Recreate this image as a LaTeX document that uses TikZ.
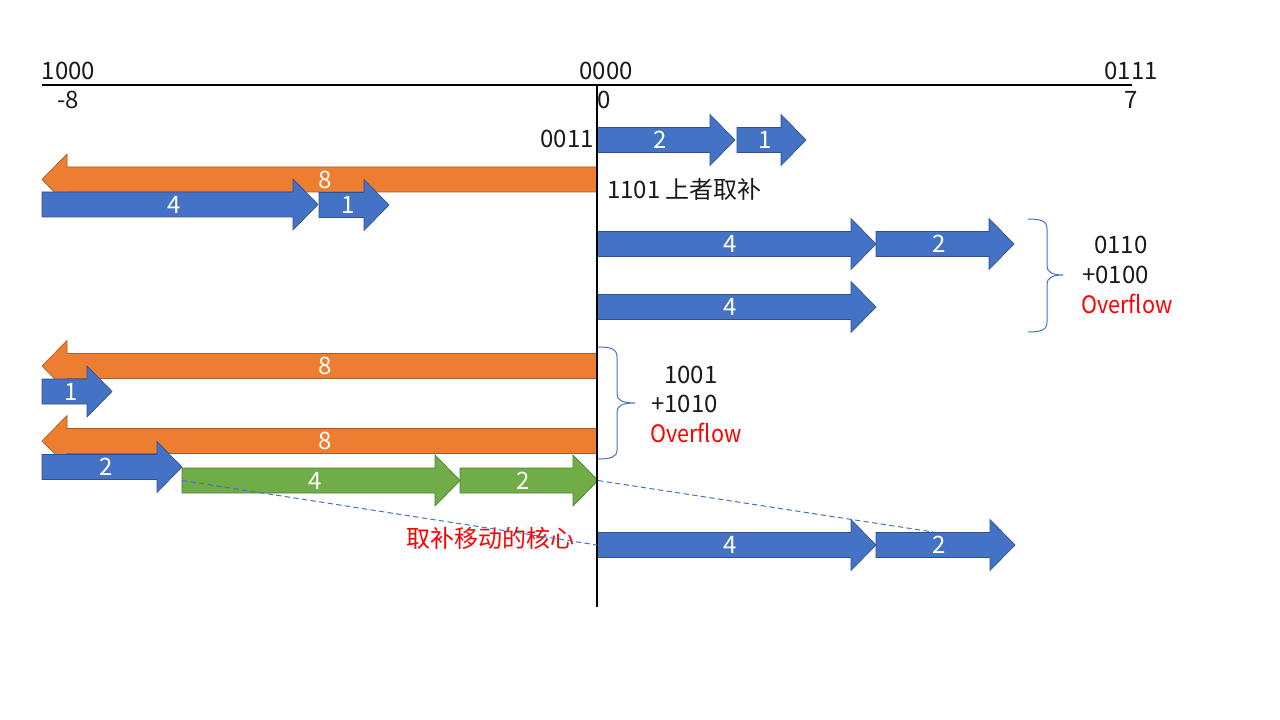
\documentclass[tikz,border=0pt]{standalone}
\usepackage{fontspec}
\setmainfont{Noto Sans CJK SC}
\definecolor{pblue}{HTML}{4472C4}
\definecolor{pblueb}{HTML}{2F528F}
\definecolor{porange}{HTML}{ED7D31}
\definecolor{porangeb}{HTML}{AE5A21}
\definecolor{pgreen}{HTML}{70AD47}
\definecolor{pgreenb}{HTML}{507E32}
\definecolor{ptext}{HTML}{1A1A1A}
\tikzset{
  bluearr/.style={fill=pblue,draw=pblueb,line width=0.5pt},
  orangearr/.style={fill=porange,draw=porangeb,line width=0.5pt},
  greenarr/.style={fill=pgreen,draw=pgreenb,line width=0.5pt},
  lbl/.style={text=white,inner sep=0pt,font=\fontsize{18}{22}\selectfont},
  txt/.style={text=ptext,inner sep=0pt,font=\fontsize{18}{22}\selectfont},
  redtxt/.style={text=red,inner sep=0pt,font=\fontsize{18}{22}\selectfont},
  bracestyle/.style={draw=pblue,line width=0.75pt},
  dashline/.style={draw=pblue,line width=0.75pt,dash pattern=on 4pt off 2.5pt},
}
% right-pointing block arrow: name, x1, xtip, yc, label, style
\newcommand\rarr[6]{%
  \filldraw[#6] (#2,#4-12.5) -- (#3-25,#4-12.5) -- (#3-25,#4-25.5) -- (#3,#4)
    -- (#3-25,#4+25.5) -- (#3-25,#4+12.5) -- (#2,#4+12.5) -- cycle;
  \node[lbl] (#1) at ({(#2+#3-12)/2},#4) {#5};}
% left-pointing block arrow: name, xtip, xend, yc, label, style
\newcommand\larr[6]{%
  \filldraw[#6] (#3,#4-12.5) -- (#2+25,#4-12.5) -- (#2+25,#4-25.5) -- (#2,#4)
    -- (#2+25,#4+25.5) -- (#2+25,#4+12.5) -- (#3,#4+12.5) -- cycle;
  \node[lbl] (#1) at ({(#2+#3+12)/2},#4) {#5};}
\begin{document}
\begin{tikzpicture}[x=0.75pt,y=-0.75pt]
\path[use as bounding box,fill=white] (0,0) rectangle (1280,720);

% axes
\coordinate (axL) at (42,85);
\coordinate (axR) at (1132,85);
\coordinate (vT) at (597,85);
\coordinate (vB) at (597,607);
\draw[line width=1.2pt,black] (axL) -- (axR);

% axis labels
\node[txt] (l1000) at (68.5,71) {1000};
\node[txt] (lm8) at (68,100) {-8};
\node[txt] (l0000) at (606,71) {0000};
\node[txt] (l0) at (604,100) {0};
\node[txt] (l0111) at (1131,71) {0111};
\node[txt] (l7) at (1131,100) {7};

% row 1
\rarr{a1}{597}{735}{140}{2}{bluearr}
\rarr{a2}{737}{806}{140}{1}{bluearr}
\node[txt,anchor=east] (t0011) at (594,139) {0011};

% row 2
\larr{o1}{42}{597}{179.5}{8}{orangearr}
\rarr{a3}{42}{318}{204.5}{4}{bluearr}
\rarr{a4}{319}{389}{205}{1}{bluearr}
\node[txt,anchor=west] (t1101) at (607,189) {1101 上者取补};

% row 3
\rarr{a5}{597}{876}{244}{4}{bluearr}
\rarr{a6}{876}{1014}{244}{2}{bluearr}
\rarr{a7}{597}{876}{307}{4}{bluearr}

% brace right group
\draw[bracestyle] (1028,219) .. controls (1041,219) and (1047,221) .. (1047,229)
  -- (1047,266) .. controls (1047,272) and (1052,275) .. (1063,275)
  .. controls (1052,275) and (1047,278) .. (1047,284)
  -- (1047,322) .. controls (1047,330) and (1041,332) .. (1028,332);
\node[txt,anchor=west] (t0110) at (1094,245) {0110};
\node[txt,anchor=west] (t0100) at (1082,275) {+0100};
\node[redtxt,anchor=west] (tov1) at (1081,304) {\scalebox{0.9}[1]{Overflow}};

% row 4
\larr{o2}{42}{597}{366}{8}{orangearr}
\rarr{a8}{42}{112}{391.5}{1}{bluearr}
\larr{o3}{42}{597}{441}{8}{orangearr}
\rarr{a9}{42}{182}{467}{2}{bluearr}
\rarr{g1}{182}{460}{480.5}{4}{greenarr}
\rarr{g2}{460}{598}{480.5}{2}{greenarr}

% brace second group
\draw[bracestyle] (598,347) .. controls (611,347) and (617,349) .. (617,357)
  -- (617,394) .. controls (617,400) and (622,403) .. (635,403)
  .. controls (622,403) and (617,406) .. (617,412)
  -- (617,450) .. controls (617,457) and (611,459) .. (598,459);
\node[txt,anchor=west] (t1001) at (664,375) {1001};
\node[txt,anchor=west] (t1010) at (651,404) {+1010};
\node[redtxt,anchor=west] (tov2) at (650,433) {\scalebox{0.9}[1]{Overflow}};

% bottom row
\rarr{a10}{597}{876}{545}{4}{bluearr}
\rarr{a11}{876}{1015}{545}{2}{bluearr}
\node[redtxt,anchor=east] (tcore) at (575,538) {取补移动的核心};

% vertical axis
\draw[line width=1.5pt,black] (vT) -- (vB);

% dashed mapping lines
\coordinate (d1s) at (182,480.5);
\coordinate (d1e) at (597,545);
\coordinate (d2s) at (598,480.5);
\coordinate (d2e) at (933,532);
\draw[dashline] (d1s) -- (d1e);
\draw[dashline] (d2s) -- (d2e);
\end{tikzpicture}
\end{document}
